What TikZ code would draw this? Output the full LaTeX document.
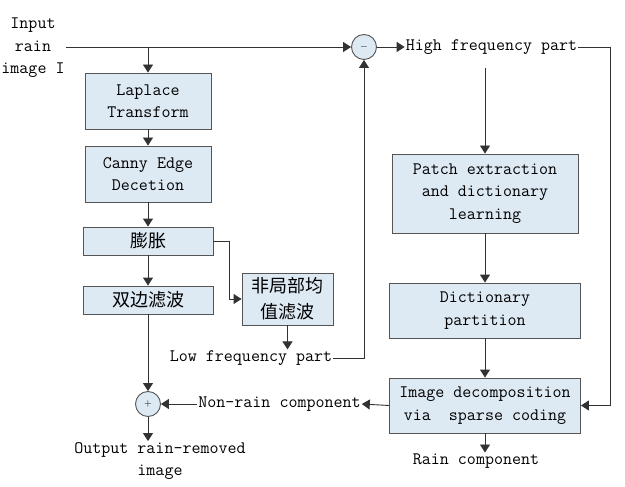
\documentclass[tikz,border=0pt]{standalone}
\usepackage{fontspec}
\newfontfamily\cjk{Noto Sans CJK SC}
\usetikzlibrary{arrows.meta,positioning,calc}
\definecolor{boxfill}{RGB}{221,233,243}
\definecolor{boxline}{RGB}{85,85,85}
\definecolor{wire}{RGB}{50,50,50}

\begin{document}
\begin{tikzpicture}[x=1pt,y=-1pt,>={Triangle[length=8pt,width=10pt]},
    font=\ttfamily\fontsize{17.5}{22.5}\selectfont]
    \tikzstyle{block}=[rectangle, draw=boxline, fill=boxfill, line width=0.9pt, align=center, inner sep=0pt]
    \tikzstyle{cjk}=[font=\cjk\fontsize{18}{26}\selectfont]
    \tikzstyle{sum}=[circle, draw=boxline, fill=boxfill, line width=0.9pt, minimum size=25pt, inner sep=0pt, font=\fontsize{10}{10}\selectfont]
    \tikzstyle{txt}=[align=center, inner sep=1pt]
    \tikzstyle{link}=[draw=wire, line width=0.9pt, ->]
    \useasboundingbox (0,0) rectangle (625,487);

    % left column
    \node[txt] (input) at (33,48) {Input\\rain\\image I};
    \node[block, minimum width=126pt, minimum height=56pt] (lap) at (148,101) {Laplace\\Transform};
    \node[block, minimum width=126pt, minimum height=56pt] (canny) at (148,174) {Canny Edge\\Decetion};
    \node[block, cjk, minimum width=130pt, minimum height=28pt] (dil) at (148,241) {膨胀};
    \node[block, cjk, minimum width=130pt, minimum height=28pt] (bil) at (148,300) {双边滤波};
    \node[block, cjk, minimum width=91pt, minimum height=52pt] (nlm) at (287.5,299) {非局部均\\值滤波};
    \node[sum] (add) at (148,404) {+};
    \node[txt] (output) at (160,461) {Output rain-removed\\image};

    % middle
    \node[sum] (sub) at (364,47) {$-$};
    \node[txt] (lf) at (251,358) {Low frequency part};
    \node[txt] (nonrain) at (279.5,404) {Non-rain component};

    % right column
    \node[txt] (hf) at (491.5,47) {High frequency part};
    \node[block, minimum width=186pt, minimum height=79pt] (patch) at (485,193.5) {Patch extraction\\and dictionary\\learning};
    \node[block, minimum width=191pt, minimum height=55pt] (dict) at (485,310.5) {Dictionary\\partition};
    \node[block, minimum width=191pt, minimum height=55pt] (dec) at (485,405.5) {Image decomposition\\via\ \ sparse coding};
    \node[txt] (rain) at (476,461) {Rain component};

    \coordinate (br) at (148,47);
    \coordinate (turn) at (610,47);

    \draw[link] (input.east |- br) -- (sub.west);
    \draw[link] (br) -- (lap.north);
    \foreach \a/\b in {lap/canny,canny/dil,dil/bil,patch/dict,dict/dec} {
        \draw[link] (\a) -- (\b);
    }
    \draw[link] (dil.east) -- ++(16,0) |- (nlm.west);
    \draw[link] (nlm.south) -- (nlm.south |- lf.north);
    \draw[link] (lf.east) -| (sub.south);
    \draw[link] (sub.east) -- (hf.west);
    \draw[link, -] (hf.east) -- (turn);
    \draw[link] (turn) |- (dec.east);
    \draw[link] ([yshift=-12pt]hf.south -| patch.north) -- (patch.north);
    \draw[link] (bil.south) -- (add.north);
    \draw[link] (add.south) -- (add.south |- output.north);
    \draw[link] (dec.west) -- (nonrain.east);
    \draw[link] (nonrain.west) -- (add.east);
    \draw[link] (dec.south) -- (dec.south |- rain.north);
\end{tikzpicture}
\end{document}
